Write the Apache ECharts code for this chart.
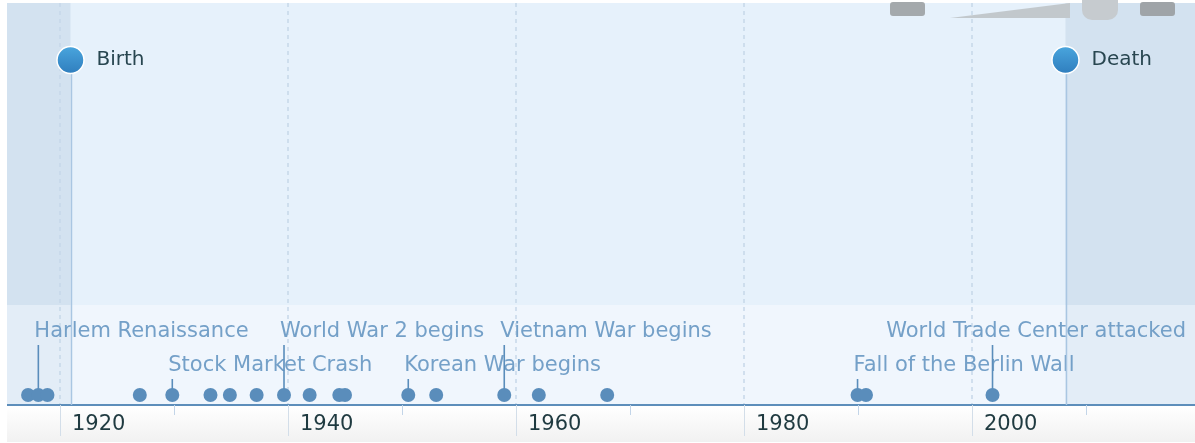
<!DOCTYPE html>
<html>
<head>
<meta charset="utf-8">
<script src="https://cdn.jsdelivr.net/npm/echarts@6/dist/echarts.min.js"></script>
<style>
  html, body { margin: 0; padding: 0; background: #fff; }
  #chart { width: 1195px; height: 443px; }
</style>
</head>
<body>
<div id="chart"></div>
<script>
// every event dot on the timeline (year, fractional)
const eventYears = [
  1917.2, 1918.1, 1918.9, 1927.0, 1929.85, 1933.2, 1934.9, 1937.25, 1939.65,
  1941.9, 1944.5, 1945.0, 1950.55, 1953.0, 1958.97, 1962.0, 1968.0,
  1989.96, 1990.7, 2001.8,
]

// labelled events
const labelNames = [
  'Harlem Renaissance', 'Stock Market Crash', 'World War 2 begins',
  'Korean War begins', 'Vietnam War begins', 'Fall of the Berlin Wall',
  'World Trade Center attacked',
]
const labelYears = [1918.1, 1929.85, 1939.65, 1950.55, 1958.97, 1989.96, 2001.8]
const labelRows = [1, 2, 1, 2, 1, 2, 1]

// life span
const lifeNames = ['Birth', 'Death']
const lifeYears = [1920.92, 2008.2]

// layout (pixels above the axis line)
const DOT_Y = 10
const ROW_Y = { 1: 74, 2: 40 }
const BAND_Y = 100
const LIFE_Y = 345
const FONT = '"DejaVu Sans", Verdana, sans-serif'
const LABEL_SIZE = 21

const measure = (() => {
  const ctx = document.createElement('canvas').getContext('2d')
  return (text, size) => {
    ctx.font = size + 'px ' + FONT
    return ctx.measureText(text).width
  }
})()

const chart = echarts.init(document.getElementById('chart'))

chart.setOption({
  backgroundColor: '#ffffff',
  animation: false,
  grid: { left: -168, right: -5, top: 3, bottom: 38, outerBoundsMode: 'none', containLabel: false },
  xAxis: {
    type: 'value',
    min: 1900,
    max: 2020,
    interval: 20,
    axisLine: { show: true, lineStyle: { color: '#5d8ebb', width: 2 } },
    axisTick: { show: true, length: 31, lineStyle: { color: '#d3dee9', width: 1 } },
    minorTick: { show: true, splitNumber: 2, length: 10, lineStyle: { color: '#c3d5e8', width: 1 } },
    splitLine: { show: true, lineStyle: { color: '#c6d7e9', width: 1.5, type: [4, 4] } },
    axisLabel: {
      formatter: v => String(v),
      align: 'left',
      padding: [0, 0, 0, 12],
      margin: 9,
      fontSize: 21,
      fontFamily: FONT,
      color: '#1f3a40',
    },
  },
  yAxis: {
    type: 'value', min: 0, max: 402, show: false,
  },
  graphic: [
    // strip under the axis
    {
      type: 'rect', z: -10, silent: true,
      shape: { x: 0, y: 406, width: 1195, height: 36 },
      style: {
        fill: new echarts.graphic.LinearGradient(0, 0, 0, 1, [
          { offset: 0, color: '#ffffff' },
          { offset: 1, color: '#f1f1f1' },
        ]),
      },
    },
    { type: 'rect', z: 100, silent: true, shape: { x: 0, y: 0, width: 7, height: 443 }, style: { fill: '#ffffff' } },
    { type: 'rect', z: 100, silent: true, shape: { x: 0, y: 0, width: 1195, height: 3 }, style: { fill: '#ffffff' } },
    // overlapping toolbar bits at the top edge
    { type: 'rect', z: 100, silent: true, shape: { x: 890, y: 2, width: 35, height: 14, r: 3 }, style: { fill: '#a4a9ac' } },
    { type: 'polygon', z: 100, silent: true, shape: { points: [[950, 18], [1070, 3], [1070, 18]] }, style: { fill: '#c2c8cc' } },
    { type: 'rect', z: 100, silent: true, shape: { x: 1082, y: 0, width: 36, height: 20, r: [0, 0, 10, 10] }, style: { fill: '#c6cbcf' } },
    { type: 'rect', z: 100, silent: true, shape: { x: 1140, y: 2, width: 35, height: 14, r: 3 }, style: { fill: '#9fa4a8' } },
  ],
  series: [
    {
      // shaded background, darker outside the life span
      type: 'custom',
      z: -1,
      silent: true,
      data: [lifeYears],
      renderItem(params, api) {
        const cs = params.coordSys
        const bx = api.coord([api.value(0), 0])[0]
        const dx = api.coord([api.value(1), 0])[0]
        const by = api.coord([0, BAND_Y])[1]
        const bottom = cs.y + cs.height
        return {
          type: 'group',
          children: [
            { type: 'rect', shape: { x: cs.x, y: cs.y, width: cs.width, height: by - cs.y }, style: { fill: '#d3e2f0' } },
            { type: 'rect', shape: { x: cs.x, y: by, width: cs.width, height: bottom - by }, style: { fill: '#e3edf7' } },
            { type: 'rect', shape: { x: bx, y: cs.y, width: dx - bx, height: by - cs.y }, style: { fill: '#e6f1fb' } },
            { type: 'rect', shape: { x: bx, y: by, width: dx - bx, height: bottom - by }, style: { fill: '#f0f6fd' } },
          ],
        }
      },
    },
    {
      // birth / death markers
      type: 'custom',
      z: 5,
      data: lifeYears.map(y => [y, LIFE_Y]),
      renderItem(params, api) {
        const p = api.coord([api.value(0), api.value(1)])
        const base = api.coord([api.value(0), 0])
        return {
          type: 'group',
          children: [
            { type: 'line', shape: { x1: p[0] + 1, y1: p[1], x2: p[0] + 1, y2: base[1] }, style: { stroke: '#a9c6e2', lineWidth: 1.5 } },
            {
              type: 'circle',
              shape: { cx: p[0], cy: p[1], r: 13.5 },
              style: {
                fill: new echarts.graphic.LinearGradient(0, 0, 0, 1, [
                  { offset: 0, color: '#4aa6de' },
                  { offset: 1, color: '#2f7dbd' },
                ]),
                stroke: '#ffffff',
                lineWidth: 1.5,
              },
            },
            {
              type: 'text',
              style: {
                x: p[0] + 26, y: p[1], text: lifeNames[params.dataIndex],
                font: '20px ' + FONT, fill: '#284650', verticalAlign: 'middle',
              },
            },
          ],
        }
      },
    },
    {
      // labelled events: text + stem
      type: 'custom',
      z: 3,
      data: labelYears.map((y, i) => [y, labelRows[i]]),
      renderItem(params, api) {
        const cs = params.coordSys
        const name = labelNames[params.dataIndex]
        const row = api.value(1)
        const dot = api.coord([api.value(0), DOT_Y])
        const ty = api.coord([api.value(0), ROW_Y[row]])[1]
        const w = measure(name, LABEL_SIZE)
        const tx = Math.min(dot[0] - 4, cs.x + cs.width - w - 14)
        return {
          type: 'group',
          children: [
            {
              type: 'text',
              style: {
                x: tx, y: ty + 1, text: name, font: LABEL_SIZE + 'px ' + FONT,
                fill: '#74a0c8', verticalAlign: 'middle',
              },
            },
            { type: 'line', shape: { x1: dot[0], y1: ty + 14, x2: dot[0], y2: dot[1] }, style: { stroke: '#5a8dbb', lineWidth: 1.6 } },
          ],
        }
      },
    },
    {
      type: 'scatter',
      z: 4,
      symbolSize: 14,
      itemStyle: { color: '#5a8dbb', opacity: 1 },
      data: eventYears.map(y => [y, DOT_Y]),
    },
  ],
})
</script>
</body>
</html>
